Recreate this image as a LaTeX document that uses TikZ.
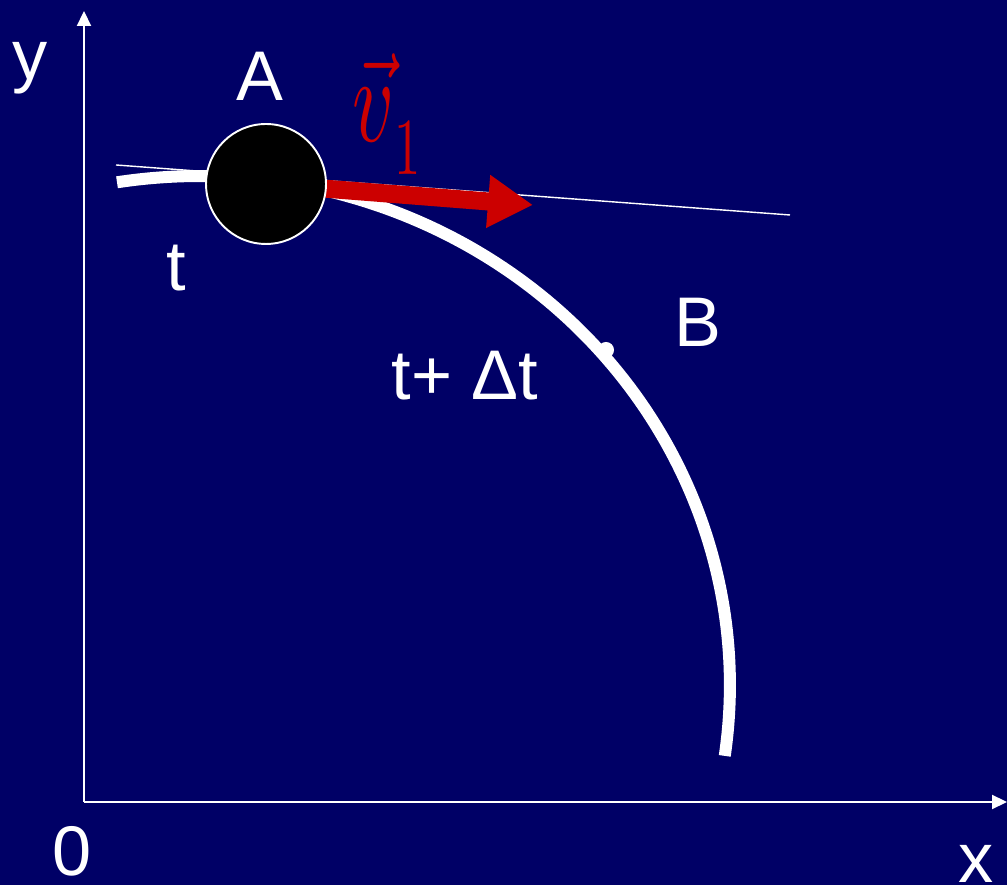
\documentclass[tikz,border=0pt]{standalone}
\usepackage{fontspec}
\setmainfont{Liberation Sans}
\usetikzlibrary{arrows.meta}
\definecolor{navy}{RGB}{0,0,102}
\definecolor{vred}{RGB}{204,0,0}

\begin{document}
\begin{tikzpicture}[x=0.02cm,y=0.02cm,>={Triangle[length=0.3cm,width=0.28cm]},
  lbl/.style={text=white,font=\fontsize{40}{48}\selectfont,inner sep=0pt},
  ball/.style={circle,fill=black,draw=white,line width=1.1pt,minimum size=2.4cm,inner sep=0pt}]
  \fill[navy] (0,0) rectangle (1007,885);
  \useasboundingbox (0,0) rectangle (1007,885);
  % axes
  \coordinate (O) at (84,83);
  \coordinate (ytop) at (84,874);
  \coordinate (xend) at (1007,83);
  \draw[white,line width=1.2pt,->] (O) -- (ytop);
  \draw[white,line width=1.2pt,->] (O) -- (xend);
  \node[lbl] (ylab) at (30,817) {y};
  \node[lbl] (zero) at (72,34) {0};
  \node[lbl] (xlab) at (976,21) {x};
  % tangent at A
  \coordinate (tanL) at (116,720);
  \coordinate (tanR) at (790,670);
  \draw[white,line width=0.8pt] (tanL) -- (tanR);
  % path of the body
  \draw[white,line width=0.24cm] (117,702.7) arc[start angle=99,end angle=-8,x radius=530,y radius=509];
  \fill[white] (606,535) circle (8);
  % velocity
  \coordinate (Actr) at (266,701);
  \coordinate (tip) at (533,680);
  \draw[vred,line width=0.36cm,-{Triangle[length=0.9cm,width=1cm]}] (Actr) -- (tip);
  \node[ball] (A) at (Actr) {};
  \node[text=vred,inner sep=0pt,anchor=base west] (v1) at (352,743)
    {\scalebox{4.6}[7]{$\vec{v}$}\raisebox{-0.66cm}{\scalebox{3}[4.6]{$1$}}};
  % labels
  \node[lbl] (Alab) at (260,809) {A};
  \node[lbl] (tlab) at (176,617) {t};
  \node[lbl] (Blab) at (698,563) {B};
  \node[lbl] (tdt) at (465,509) {t+ Δt};
\end{tikzpicture}
\end{document}
